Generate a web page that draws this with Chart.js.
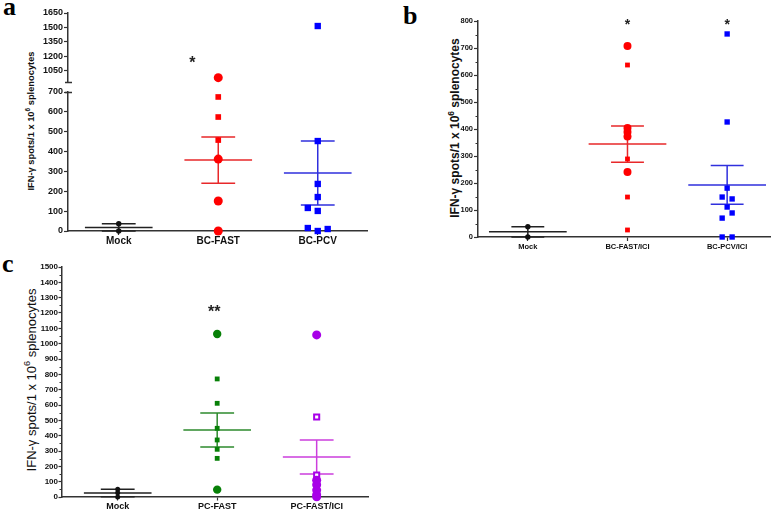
<!DOCTYPE html>
<html><head><meta charset="utf-8">
<script src="https://cdn.jsdelivr.net/npm/chart.js@4.4.1/dist/chart.umd.min.js"></script>
<style>
html,body{margin:0;padding:0;background:#fff;}
#root{position:relative;width:778px;height:511px;overflow:hidden;font-family:"Liberation Sans",Arial,sans-serif;color:#111;}
canvas{position:absolute;}
.plabel{position:absolute;font-family:"Liberation Serif",serif;font-weight:bold;font-size:26px;line-height:1;color:#000;}
.ytitle{position:absolute;white-space:nowrap;transform:translate(-50%,-50%) rotate(-90deg);line-height:1;color:#111;}
.ytitle sup{font-size:70%;vertical-align:super;line-height:0;}
</style></head><body>
<div id="root">
  <div class="plabel" style="left:3px;top:-6px">a</div>
  <div class="plabel" style="left:403px;top:3px">b</div>
  <div class="plabel" style="left:2px;top:251px">c</div>
  <div class="ytitle" style="left:31.5px;top:121px;font-size:9.3px;font-weight:bold">IFN-γ spots/1 x 10<sup>6</sup> splenocytes</div>
  <div class="ytitle" style="left:455px;top:128px;font-size:12px;font-weight:bold">IFN-γ spots/1 x 10<sup>6</sup> splenocytes</div>
  <div class="ytitle" style="left:31px;top:380px;font-size:13px">IFN-γ spots/1 x 10<sup>6</sup> splenocytes</div>
</div>
<script>
// ---------------- DATA ----------------
// Panel a
const catsA = ['Mock', 'BC-FAST', 'BC-PCV'];
const mockA = [0, 37];
const bcFastA = [980, 675, 574, 458, 362, 151, 0];
const bcPcvA = [1515, 453, 237, 171, 116, 101, 15, 0, 10];
const meanA = [18, 357, 292];
const semA = [19, 116, 161];
const ticksLowA = [0, 100, 200, 300, 400, 500, 600, 700];
const ticksHighA = [1050, 1200, 1350, 1500, 1650];
const sigA = ['', '*', ''];

// Panel b
const catsB = ['Mock', 'BC-FAST/ICI', 'BC-PCV/ICI'];
const mockB = [0, 38];
const bcFastIciB = [707, 637, 404, 389, 372, 289, 241, 148, 26];
const bcPcvIciB = [752, 426, 181, 148, 141, 111, 89, 70, 0, 0];
const meanB = [19, 344, 193];
const semB = [19, 67, 72];
const ticksB = [0, 100, 200, 300, 400, 500, 600, 700, 800];
const sigB = ['', '*', '*'];

// Panel c
const catsC = ['Mock', 'PC-FAST', 'PC-FAST/ICI'];
const mockC = [0, 28, 50];
const pcFastC = [1063, 770, 611, 448, 372, 311, 252, 48];
const pcFastIciC = [1057, 522, 143, 110, 80, 45, 15, 2];
const meanC = [26, 437, 261];
const semC = [25, 111, 111];
const ticksC = [0, 100, 200, 300, 400, 500, 600, 700, 800, 900, 1000, 1100, 1200, 1300, 1400, 1500];
const sigC = ['', '**', ''];

// ---------------- STYLE / LAYOUT ----------------
const FONT = "'Liberation Sans', Arial, sans-serif";
const RED = '#ff0000', BLUE = '#0000ff', GREEN = '#078007', PURPLE = '#a800e8', BLACK = '#111';
const LRED = '#e8282a', LBLUE = '#3030dd', LGREEN = '#2e8b2e', LPURPLE = '#cc3fdd', LBLACK = '#222';
// marker shapes: c = filled circle, s = filled square, h = hollow square
const shapeFastA = ['c', 's', 's', 's', 'c', 'c', 'c'];
const shapeFastB = ['c', 's', 'c', 'c', 'c', 's', 'c', 's', 's'];
const shapeFastC = ['c', 's', 's', 's', 's', 's', 's', 'c'];
const shapeIciC = ['c', 'h', 'h', 'c', 'c', 'c', 'c', 'c'];
// horizontal jitter (category units) for crowded points
const jitPcvA = [0, 0, 0, 0, -0.1, 0, -0.1, 0, 0.1];
const jitPcvB = [0, 0, 0, -0.05, 0.05, 0, 0.05, -0.05, -0.05, 0.05];
const BREAK = 700, UPPER_MIN = 940;

const root = document.getElementById('root');

function pts(values, cat, color, shapes, jit, rC, rS, keep) {
  const data = [], st = [], rad = [], bg = [], bw = [];
  values.forEach((v, i) => {
    if (keep && !keep(v)) return;
    const sh = shapes ? shapes[i] : 'c';
    data.push({ x: cat + (jit ? jit[i] : 0), y: v });
    st.push(sh === 'c' ? 'circle' : 'rect');
    rad.push(sh === 'c' ? rC : rS);
    bg.push(sh === 'h' ? '#fff' : color);
    bw.push(sh === 'h' ? 2 : 0);
  });
  return { data, pointStyle: st, pointRadius: rad, pointHoverRadius: rad, pointBackgroundColor: bg,
    pointBorderColor: color, pointBorderWidth: bw, showLine: false, clip: false };
}

const meanSemPlugin = {
  id: 'meanSem',
  beforeDatasetsDraw(chart, args, o) {
    if (!o || !o.mean) return;
    const xs = chart.scales.x, ys = chart.scales.y, ctx = chart.ctx;
    ctx.save();
    ctx.lineWidth = o.lw || 1.5;
    o.mean.forEach((m, i) => {
      const c = i + 1, s = o.sem[i];
      const px = xs.getPixelForValue(c);
      const mw = xs.getPixelForValue(c + o.meanHalf) - px;
      const cw = xs.getPixelForValue(c + o.capHalf) - px;
      const ym = ys.getPixelForValue(m);
      const yu = ys.getPixelForValue(m + s);
      const yl = ys.getPixelForValue(Math.max(m - s, 0));
      ctx.strokeStyle = o.colors[i];
      ctx.beginPath();
      ctx.moveTo(px - mw, ym); ctx.lineTo(px + mw, ym);
      ctx.moveTo(px - cw, yu); ctx.lineTo(px + cw, yu);
      ctx.moveTo(px - cw, yl); ctx.lineTo(px + cw, yl);
      ctx.moveTo(px, yu); ctx.lineTo(px, yl);
      ctx.stroke();
    });
    ctx.restore();
  }
};

const starsPlugin = {
  id: 'stars',
  afterDraw(chart, args, o) {
    if (!o || !o.sig) return;
    const xs = chart.scales.x, ys = chart.scales.y, ctx = chart.ctx;
    ctx.save();
    ctx.font = 'bold ' + o.size + 'px ' + FONT;
    ctx.fillStyle = '#222';
    ctx.textAlign = 'center';
    ctx.textBaseline = 'alphabetic';
    o.sig.forEach((t, i) => {
      if (!t) return;
      const x = xs.getPixelForValue(i + 1 + (o.dx || 0));
      const y = ys.getPixelForValue(o.level);
      ctx.fillText(t, x, y + o.size * 0.57);
    });
    ctx.restore();
  }
};

const minorPlugin = {
  id: 'minor',
  afterDraw(chart, args, o) {
    if (!o || !o.values) return;
    const ys = chart.scales.y, ctx = chart.ctx, left = chart.chartArea.left;
    ctx.save();
    ctx.strokeStyle = '#333'; ctx.lineWidth = 1;
    ctx.beginPath();
    o.values.forEach(v => {
      const y = Math.round(ys.getPixelForValue(v)) + 0.5;
      ctx.moveTo(left - o.len, y); ctx.lineTo(left, y);
    });
    ctx.stroke();
    ctx.restore();
  }
};

const breakPlugin = {
  id: 'brk',
  afterDraw(chart, args, o) {
    if (!o || !o.edge) return;
    const ca = chart.chartArea, ctx = chart.ctx;
    const y = Math.round(o.edge === 'bottom' ? ca.bottom : ca.top) + 0.5;
    ctx.save();
    ctx.strokeStyle = '#333'; ctx.lineWidth = 1.5;
    ctx.beginPath(); ctx.moveTo(ca.left - 3, y); ctx.lineTo(ca.left + 4, y); ctx.stroke();
    ctx.restore();
  }
};

Chart.register(meanSemPlugin, starsPlugin, minorPlugin, breakPlugin);

function build(box, cfg) {
  const cv = document.createElement('canvas');
  cv.width = box.w; cv.height = box.h;
  cv.style.left = box.l + 'px'; cv.style.top = box.t + 'px';
  cv.style.width = box.w + 'px'; cv.style.height = box.h + 'px';
  root.appendChild(cv);
  const axisGrid = { display: true, drawOnChartArea: false, drawTicks: true, tickLength: cfg.tick || 4, tickColor: '#333', tickWidth: 1.2 };
  const axisBorder = { display: true, color: '#333', width: 1.5 };
  return new Chart(cv, {
    type: 'scatter',
    data: { datasets: cfg.datasets },
    options: {
      responsive: false, animation: false, devicePixelRatio: 1,
      events: [],
      layout: { padding: { left: 0, right: box.pr, top: box.pt, bottom: box.pb || 0 } },
      plugins: {
        legend: { display: false }, tooltip: { enabled: false },
        meanSem: cfg.meanSem || {}, stars: cfg.stars || {}, minor: cfg.minor || {}, brk: cfg.brk || {}
      },
      scales: {
        x: {
          type: 'linear', min: cfg.xmin, max: cfg.xmax, display: cfg.xDisplay !== false,
          afterBuildTicks: s => { s.ticks = cfg.cats.map((c, i) => ({ value: i + 1 })); },
          afterFit: s => { s.height = box.xh; s.paddingLeft = 0; s.paddingRight = 0; },
          ticks: { callback: v => cfg.cats[Math.round(v) - 1], autoSkip: false, maxRotation: 0,
                   font: { family: FONT, weight: 'bold', size: cfg.xfont }, color: '#111', padding: cfg.xpad },
          grid: axisGrid, border: axisBorder
        },
        y: {
          type: 'linear', min: cfg.ymin, max: cfg.ymax,
          afterBuildTicks: s => { s.ticks = cfg.yticks.map(v => ({ value: v })); },
          afterFit: s => { s.width = box.yw; s.paddingTop = 0; s.paddingBottom = 0; },
          ticks: { callback: v => String(v), autoSkip: false,
                   font: { family: FONT, weight: 'bold', size: cfg.yfont }, color: '#111', padding: cfg.ypad },
          grid: axisGrid, border: axisBorder
        }
      }
    }
  });
}

const up = v => v > BREAK, low = v => v <= BREAK;

// Panel a - upper segment (broken axis)
build({ l: 0, t: 4, w: 372, h: 82, pt: 9, pr: 3, pb: 2, yw: 68, xh: 0 }, {
  cats: catsA, xmin: 0.49, xmax: 3.5, xDisplay: false,
  ymin: UPPER_MIN, ymax: 1650, yticks: ticksHighA, yfont: 9, ypad: 1, xfont: 10, xpad: 0,
  datasets: [
    pts(bcFastA, 2, RED, shapeFastA, null, 4.5, 4, up),
    pts(bcPcvA, 3, BLUE, bcPcvA.map(() => 's'), null, 4.5, 4.5, up)
  ],
  stars: { sig: sigA, level: 1170, dx: -0.26, size: 16 },
  brk: { edge: 'bottom' }
});

// Panel a - lower segment
build({ l: 0, t: 86, w: 372, h: 170, pt: 6, pr: 3, yw: 68, xh: 25 }, {
  cats: catsA, xmin: 0.49, xmax: 3.5,
  ymin: 0, ymax: BREAK, yticks: ticksLowA, yfont: 9, ypad: 1, xfont: 10, xpad: 0,
  datasets: [
    pts(mockA, 1, BLACK, null, null, 2.7, 2.7, low),
    pts(bcFastA, 2, RED, shapeFastA, null, 4.5, 4, low),
    pts(bcPcvA, 3, BLUE, bcPcvA.map(() => 's'), jitPcvA, 4.5, 4.5, low)
  ],
  meanSem: { mean: meanA, sem: semA, colors: [LBLACK, LRED, LBLUE], meanHalf: 0.34, capHalf: 0.17 },
  brk: { edge: 'top' }
});

// Panel b
build({ l: 400, t: 12, w: 374, h: 252, pt: 9, pr: 4, yw: 78, xh: 27 }, {
  cats: catsB, xmin: 0.5, xmax: 3.43,
  ymin: 0, ymax: 800, yticks: ticksB, yfont: 7.5, ypad: 1, xfont: 7.5, xpad: 1.5,
  datasets: [
    pts(mockB, 1, BLACK, null, null, 2.7, 2.7),
    pts(bcFastIciB, 2, RED, shapeFastB, null, 4, 3.4),
    pts(bcPcvIciB, 3, BLUE, bcPcvIciB.map(() => 's'), jitPcvB, 4, 3.8)
  ],
  meanSem: { mean: meanB, sem: semB, colors: [LBLACK, LRED, LBLUE], meanHalf: 0.39, capHalf: 0.165 },
  stars: { sig: sigB, level: 800, dx: 0, size: 14 },
  minor: { values: ticksB.slice(1).map(v => v - 50), len: 2.5 }
});

// Panel c
build({ l: 0, t: 258, w: 374, h: 253, pt: 9, pr: 4, yw: 62, xh: 14 }, {
  cats: catsC, xmin: 0.44, xmax: 3.52, tick: 3.5,
  ymin: 0, ymax: 1500, yticks: ticksC, yfont: 8, ypad: 0.5, xfont: 9, xpad: 1,
  datasets: [
    pts(mockC, 1, BLACK, null, null, 2.5, 2.5),
    pts(pcFastC, 2, GREEN, shapeFastC, null, 4.2, 3.4),
    pts(pcFastIciC, 3, PURPLE, shapeIciC, null, 4.5, 3.6)
  ],
  meanSem: { mean: meanC, sem: semC, colors: [LBLACK, LGREEN, LPURPLE], meanHalf: 0.34, capHalf: 0.17 },
  stars: { sig: sigC, level: 1233, dx: -0.03, size: 16 },
  minor: { values: ticksC.slice(1).map(v => v - 50), len: 2.5 }
});
</script>
</body></html>
